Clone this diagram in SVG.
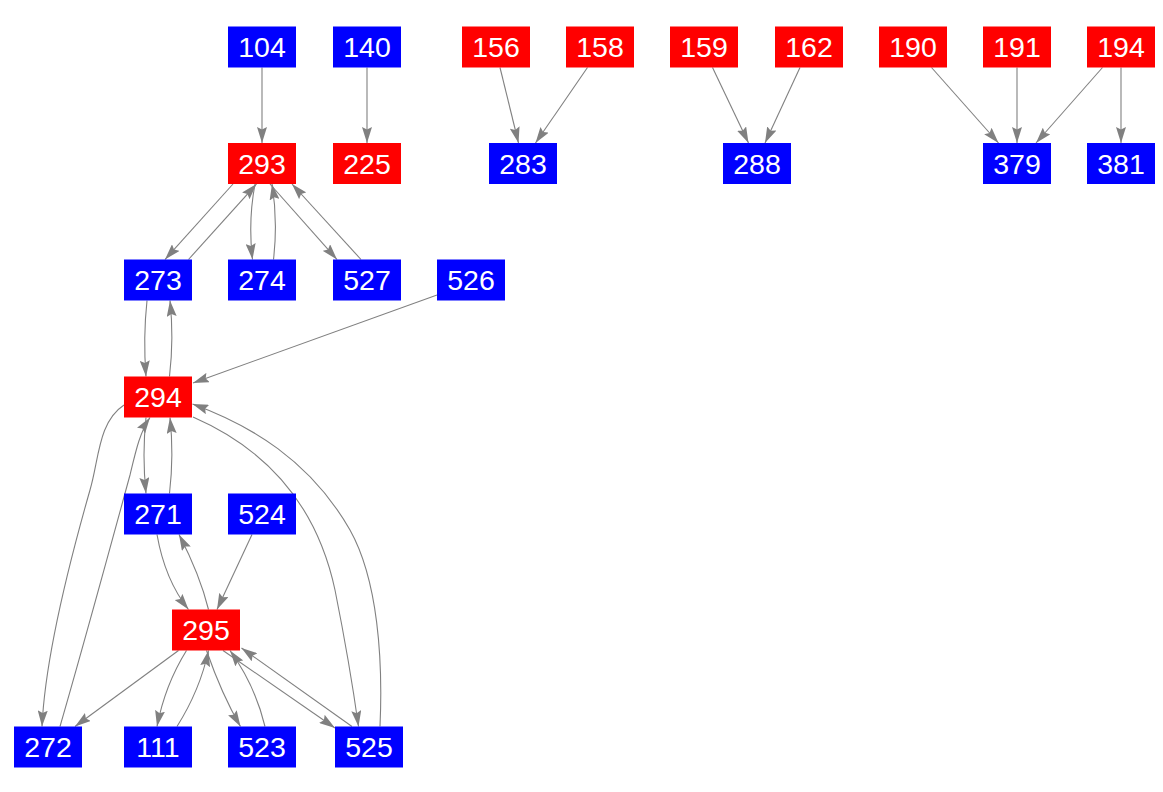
<svg xmlns="http://www.w3.org/2000/svg" width="1163" height="792" viewBox="0 0 1163 792">
<style>
.n rect{stroke:none}
.r rect{fill:#ff0000}
.b rect{fill:#0000ff}
.n text{font-family:"Liberation Sans",Arial,sans-serif;font-size:28.5px;fill:#ffffff;text-anchor:middle}
.e path{fill:none;stroke:#808080;stroke-width:1.1;marker-end:url(#a)}
</style>
<defs>
<marker id="a" viewBox="0 0 16 10" refX="16" refY="5" markerWidth="16" markerHeight="10" markerUnits="userSpaceOnUse" orient="auto">
<path d="M0,0 L16,5 L0,10 L2.5,5 z" fill="#808080"/>
</marker>
</defs>
<rect width="1163" height="792" fill="#ffffff"/>
<g id="edges" class="e">
<path d="M262,67.5 L262,143"/>
<path d="M367,67.5 L367,143"/>
<path d="M500,67.5 L518.5,143"/>
<path d="M587.5,67.5 L535.5,143"/>
<path d="M712.5,67.5 L748.5,143"/>
<path d="M800,67.5 L765,143"/>
<path d="M931.5,67.5 L998.5,143"/>
<path d="M1017,67.5 L1017,143"/>
<path d="M1102.5,67.5 L1036,143"/>
<path d="M1121,67.5 L1121,143"/>
<path d="M233,184 L165,259.5"/>
<path d="M188.5,259.5 L256.5,184"/>
<path d="M255,184 Q248,221 252.5,259.5"/>
<path d="M273.5,259.5 Q278,221 272,184"/>
<path d="M270,184 L337,259.5"/>
<path d="M361,259.5 L292,184"/>
<path d="M147,300.5 Q143,338 146,376.5"/>
<path d="M169.5,376.5 Q174,338 170,300.5"/>
<path d="M437,295 L193,383"/>
<path d="M146,417.5 Q142,455 146,493.5"/>
<path d="M169.5,493.5 Q174,455 170,417.5"/>
<path d="M124,405 C98,422 99,460 90,490 C70,560 45,660 42,726.5"/>
<path d="M60,726.5 C85,640 115,530 130,475 C136,450 140,432 150,417.5"/>
<path d="M193,417 C280,455 320,520 335,590 C345,640 352,680 358.5,726.5"/>
<path d="M380,726.5 C383,660 378,580 350,530 C310,460 250,425 192.5,404"/>
<path d="M157,534.5 Q165,580 188.5,609.5"/>
<path d="M208.5,609.5 Q200,575 179,534.5"/>
<path d="M252,534.5 L217,609.5"/>
<path d="M178.5,650.5 L75,726.5"/>
<path d="M186.5,650.5 Q165,685 157,726.5"/>
<path d="M177,726.5 Q200,690 208.5,650.5"/>
<path d="M206.5,650.5 Q222,695 240.5,726.5"/>
<path d="M265,726.5 Q255,685 230,650.5"/>
<path d="M223,650.5 L335,728"/>
<path d="M352,726.5 L241.5,648"/>
</g>
<g id="n104" class="n b"><rect x="228" y="26.5" width="68" height="41"/><text x="262" y="57.2">104</text></g>
<g id="n140" class="n b"><rect x="333" y="26.5" width="68" height="41"/><text x="367" y="57.2">140</text></g>
<g id="n156" class="n r"><rect x="462" y="26.5" width="68" height="41"/><text x="496" y="57.2">156</text></g>
<g id="n158" class="n r"><rect x="566" y="26.5" width="68" height="41"/><text x="600" y="57.2">158</text></g>
<g id="n159" class="n r"><rect x="670" y="26.5" width="68" height="41"/><text x="704" y="57.2">159</text></g>
<g id="n162" class="n r"><rect x="775" y="26.5" width="68" height="41"/><text x="809" y="57.2">162</text></g>
<g id="n190" class="n r"><rect x="879" y="26.5" width="68" height="41"/><text x="913" y="57.2">190</text></g>
<g id="n191" class="n r"><rect x="983" y="26.5" width="68" height="41"/><text x="1017" y="57.2">191</text></g>
<g id="n194" class="n r"><rect x="1087" y="26.5" width="68" height="41"/><text x="1121" y="57.2">194</text></g>
<g id="n293" class="n r"><rect x="228" y="143" width="68" height="41"/><text x="262" y="173.7">293</text></g>
<g id="n225" class="n r"><rect x="333" y="143" width="68" height="41"/><text x="367" y="173.7">225</text></g>
<g id="n283" class="n b"><rect x="489" y="143" width="68" height="41"/><text x="523" y="173.7">283</text></g>
<g id="n288" class="n b"><rect x="723" y="143" width="68" height="41"/><text x="757" y="173.7">288</text></g>
<g id="n379" class="n b"><rect x="983" y="143" width="68" height="41"/><text x="1017" y="173.7">379</text></g>
<g id="n381" class="n b"><rect x="1087" y="143" width="68" height="41"/><text x="1121" y="173.7">381</text></g>
<g id="n273" class="n b"><rect x="124" y="259.5" width="68" height="41"/><text x="158" y="290.2">273</text></g>
<g id="n274" class="n b"><rect x="228" y="259.5" width="68" height="41"/><text x="262" y="290.2">274</text></g>
<g id="n527" class="n b"><rect x="333" y="259.5" width="68" height="41"/><text x="367" y="290.2">527</text></g>
<g id="n526" class="n b"><rect x="437" y="259.5" width="68" height="41"/><text x="471" y="290.2">526</text></g>
<g id="n294" class="n r"><rect x="124" y="376.5" width="68" height="41"/><text x="158" y="407.2">294</text></g>
<g id="n271" class="n b"><rect x="124" y="493.5" width="68" height="41"/><text x="158" y="524.2">271</text></g>
<g id="n524" class="n b"><rect x="228" y="493.5" width="68" height="41"/><text x="262" y="524.2">524</text></g>
<g id="n295" class="n r"><rect x="172" y="609.5" width="68" height="41"/><text x="206" y="640.2">295</text></g>
<g id="n272" class="n b"><rect x="14" y="726.5" width="68" height="41"/><text x="48" y="757.2">272</text></g>
<g id="n111" class="n b"><rect x="124" y="726.5" width="68" height="41"/><text x="158" y="757.2">111</text></g>
<g id="n523" class="n b"><rect x="228" y="726.5" width="68" height="41"/><text x="262" y="757.2">523</text></g>
<g id="n525" class="n b"><rect x="335" y="726.5" width="68" height="41"/><text x="369" y="757.2">525</text></g>
</svg>
